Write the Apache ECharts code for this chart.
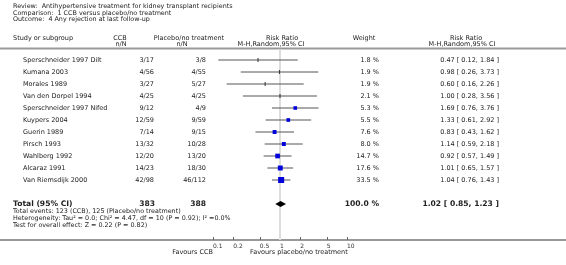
<!DOCTYPE html>
<html lang="en">
<head>
  <meta charset="UTF-8">
  <title>Forest plot</title>
  <script src="https://cdn.jsdelivr.net/npm/echarts@6/dist/echarts.min.js"></script>
  <style>
    html, body { margin: 0; padding: 0; background: #fff; }
    #chart { width: 566px; height: 265px; }
  </style>
</head>
<body>
  <div id="chart"></div>
  <script>
    // data
    var studies = ['Sperschneider 1997 Dilt', 'Kumana 2003', 'Morales 1989', 'Van den Dorpel 1994',
      'Sperschneider 1997 Nifed', 'Kuypers 2004', 'Guerin 1989', 'Pirsch 1993', 'Wahlberg 1992',
      'Alcaraz 1991', 'Van Riemsdijk 2000']
    var ccbEvents = ['3/17', '4/56', '3/27', '4/25', '9/12', '12/59', '7/14', '13/32', '12/20', '14/23', '42/98']
    var placeboEvents = ['3/8', '4/55', '5/27', '4/25', '4/9', '9/59', '9/15', '10/28', '13/20', '18/30', '46/112']
    var weights = [1.8, 1.9, 1.9, 2.1, 5.3, 5.5, 7.6, 8.0, 14.7, 17.6, 33.5]
    var rr = [0.47, 0.98, 0.60, 1.00, 1.69, 1.33, 0.83, 1.14, 0.92, 1.01, 1.04]
    var lower = [0.12, 0.26, 0.16, 0.28, 0.76, 0.61, 0.43, 0.59, 0.57, 0.65, 0.76]
    var upper = [1.84, 3.73, 2.26, 3.56, 3.76, 2.92, 1.62, 2.18, 1.49, 1.57, 1.43]
    var total = { label: 'Total (95% CI)', ccbN: '383', placeboN: '388', weight: 100.0, rr: 1.02, lower: 0.85, upper: 1.23 }
    var totalRow = 12
    var tickValues = [0.1, 0.2, 0.5, 1, 2, 5, 10]
    var titleLines = ['Review:  Antihypertensive treatment for kidney transplant recipients',
      'Comparison:  1 CCB versus placebo/no treatment',
      'Outcome:  4 Any rejection at last follow-up']
    var footLines = ['Total events: 123 (CCB), 125 (Placebo/no treatment)',
      'Heterogeneity: Tau\u00b2 = 0.0; Chi\u00b2 = 4.47, df = 10 (P = 0.92); I\u00b2 =0.0%',
      'Test for overall effect: Z = 0.22 (P = 0.82)']
    var favours = ['Favours CCB', 'Favours placebo/no treatment']

    var FONT = '"DejaVu Sans", Verdana, sans-serif'
    var TXT = '#222'

    function fmt2(v) { return v.toFixed(2) }
    function ciText(r, l, u) { return fmt2(r) + ' [ ' + fmt2(l) + ', ' + fmt2(u) + ' ]' }

    function txt(x, y, s, align, size, bold) {
      return {
        type: 'text', x: x, y: y, silent: true,
        style: {
          text: s, fill: TXT, fontFamily: FONT, fontSize: size || 6.5,
          fontWeight: bold ? 'bold' : 'normal',
          align: align || 'left', verticalAlign: 'middle',
          textAlign: align || 'left', textVerticalAlign: 'middle'
        }
      }
    }

    var studyData = studies.map(function (s, i) {
      return [rr[i], i, lower[i], upper[i], weights[i]]
    })

    var graphics = []
    titleLines.forEach(function (t, i) { graphics.push(txt(13, 6.5 + i * 6.5, t, 'left', 6.4)) })
    // column headers
    graphics.push(txt(13, 38, 'Study or subgroup'))
    graphics.push(txt(120, 38, 'CCB', 'center'))
    graphics.push(txt(121, 44, 'n/N', 'center'))
    graphics.push(txt(189, 38, 'Placebo/no treatment', 'center'))
    graphics.push(txt(182, 44, 'n/N', 'center'))
    graphics.push(txt(282, 38, 'Risk Ratio', 'center'))
    graphics.push(txt(271, 44, 'M-H,Random,95% CI', 'center'))
    graphics.push(txt(364, 38, 'Weight', 'center'))
    graphics.push(txt(466, 38, 'Risk Ratio', 'center'))
    graphics.push(txt(462, 44, 'M-H,Random,95% CI', 'center'))
    footLines.forEach(function (t, i) { graphics.push(txt(13, 211.5 + i * 7, t, 'left', 6.4)) })
    graphics.push(txt(213, 252, favours[0], 'right'))
    graphics.push(txt(250, 252, favours[1], 'left'))
    // rules
    graphics.push({ type: 'line', silent: true, shape: { x1: 0, y1: 48.5, x2: 566, y2: 48.5 }, style: { stroke: '#999', lineWidth: 2 } })
    graphics.push({ type: 'line', silent: true, shape: { x1: 0, y1: 240, x2: 566, y2: 240 }, style: { stroke: '#999', lineWidth: 2 } })

    var chart = echarts.init(document.getElementById('chart'))
    var option = {
      backgroundColor: '#fff',
      animation: false,
      grid: { left: 213, right: 219, top: 49, bottom: 25 },
      xAxis: {
        type: 'log', logBase: 10, min: 0.1, max: 10,
        axisLine: { show: false, onZero: false },
        splitLine: { show: false },
        axisTick: { show: true, inside: true, length: 3, customValues: tickValues, lineStyle: { color: '#666' } },
        axisLabel: {
          customValues: tickValues, margin: 3, fontSize: 6, color: '#333', fontFamily: FONT, align: 'left',
          formatter: function (v) { return String(+v.toPrecision(3)) }
        }
      },
      yAxis: { type: 'value', inverse: true, min: -11 / 12, max: 15, show: false },
      graphic: graphics,
      series: [
        {
          // line of no effect, drawn under the marks
          type: 'custom', z: 1, silent: true,
          data: [[1, -11 / 12], [1, 15]],
          encode: { x: 0, y: 1 },
          renderItem: function (params, api) {
            if (params.dataIndex > 0) return null
            var a = api.coord([1, -11 / 12])
            var b = api.coord([1, 15])
            return { type: 'line', shape: { x1: a[0], y1: a[1], x2: b[0], y2: b[1] }, style: { stroke: '#ddd', lineWidth: 2 } }
          }
        },
        {
          // confidence intervals and weight squares
          type: 'custom', clip: false, z: 4,
          data: studyData,
          encode: { x: [0, 2, 3], y: 1 },
          renderItem: function (params, api) {
            var p = api.coord([api.value(0), api.value(1)])
            var pl = api.coord([api.value(2), api.value(1)])
            var ph = api.coord([api.value(3), api.value(1)])
            var w = api.value(4)
            var children = [{
              type: 'line', shape: { x1: pl[0], y1: p[1], x2: ph[0], y2: p[1] },
              style: { stroke: '#555', lineWidth: 1 }
            }]
            if (w < 3) {
              children.push({ type: 'rect', shape: { x: p[0] - 0.5, y: p[1] - 2, width: 1, height: 4 }, style: { fill: '#333' } })
            } else {
              var s = 2 + Math.sqrt(w) * 0.7
              children.push({ type: 'rect', shape: { x: p[0] - s / 2, y: p[1] - s / 2, width: s, height: s }, style: { fill: '#0000dd' } })
            }
            return { type: 'group', children: children }
          }
        },
        {
          // pooled diamond
          type: 'custom', clip: false, z: 4,
          data: [[total.rr, totalRow, total.lower, total.upper]],
          encode: { x: [0, 2, 3], y: 1 },
          renderItem: function (params, api) {
            var p = api.coord([api.value(0), api.value(1)])
            var pl = api.coord([api.value(2), api.value(1)])
            var ph = api.coord([api.value(3), api.value(1)])
            return {
              type: 'polygon',
              shape: { points: [[pl[0], p[1]], [p[0], p[1] - 3], [ph[0], p[1]], [p[0], p[1] + 3]] },
              style: { fill: '#000' }
            }
          }
        },
        {
          // table text per row
          type: 'custom', clip: false, silent: true,
          data: studies.map(function (s, i) { return [1, i] }).concat([[1, totalRow]]),
          encode: { x: 0, y: 1 },
          renderItem: function (params, api) {
            var i = params.dataIndex
            var y = api.coord([1, api.value(1)])[1]
            if (i < studies.length) {
              return {
                type: 'group', children: [
                  txt(23, y, studies[i]),
                  txt(154, y, ccbEvents[i], 'right'),
                  txt(206, y, placeboEvents[i], 'right'),
                  txt(379, y, weights[i].toFixed(1) + ' %', 'right'),
                  txt(499, y, ciText(rr[i], lower[i], upper[i]), 'right')
                ]
              }
            }
            return {
              type: 'group', children: [
                txt(13, y, total.label, 'left', 7.6, true),
                txt(155, y, total.ccbN, 'right', 7.6, true),
                txt(206, y, total.placeboN, 'right', 7.6, true),
                txt(379, y, total.weight.toFixed(1) + ' %', 'right', 7.6, true),
                txt(499, y, ciText(total.rr, total.lower, total.upper), 'right', 7.6, true)
              ]
            }
          }
        }
      ]
    }
    chart.setOption(option)
    window.onresize = function () { chart.resize() }
  </script>
</body>
</html>
